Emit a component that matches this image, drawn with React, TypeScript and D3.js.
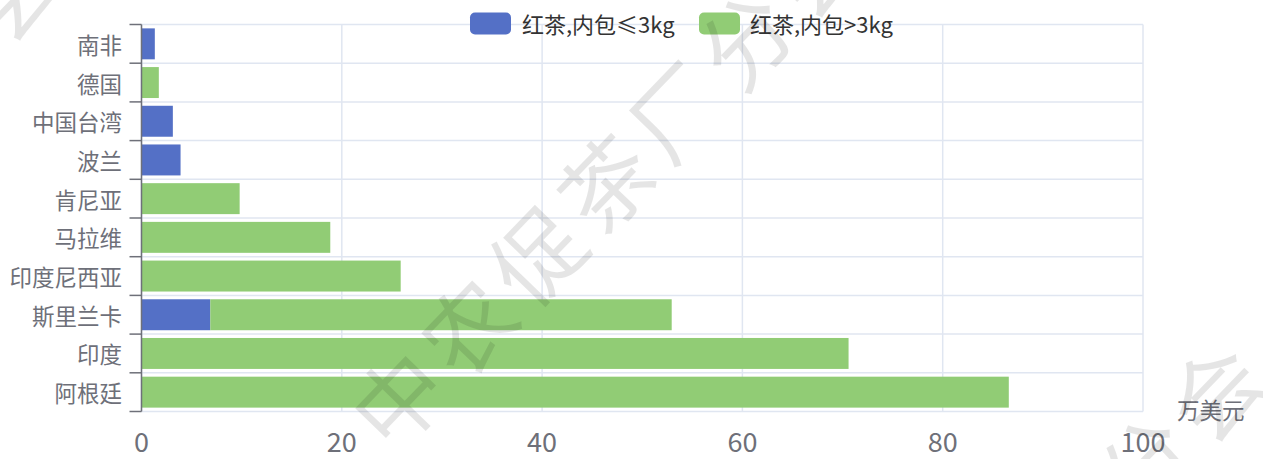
import React from "react";
import * as d3 from "d3";

const categories = ["南非", "德国", "中国台湾", "波兰", "肯尼亚", "马拉维", "印度尼西亚", "斯里兰卡", "印度", "阿根廷"];
const seriesSmall = [1.33, 0, 3.13, 3.9, 0, 0, 0, 6.87, 0, 0];
const seriesLarge = [0, 1.73, 0, 0, 9.8, 18.85, 25.88, 46.07, 70.6, 86.6];
const seriesNames = ["红茶,内包≤3kg", "红茶,内包>3kg"];
const xTicks = [0, 20, 40, 60, 80, 100];
const unitLabel = "万美元";
const watermark = "中农促茶厂分会";

const W = 1263;
const H = 459;
const left = 141.5;
const right = 1143;
const top = 24.5;
const bottom = 411.5;
const colors = ["#5470c6", "#91cc75"];
const axisColor = "#6e7079";
const gridColor = "#e0e6f1";
const font = "'Noto Sans CJK SC', 'Noto Sans', sans-serif";

export default function App() {
  const x = d3.scaleLinear().domain([0, 100]).range([left, right]);
  const y = d3.scaleBand<string>().domain(categories).range([top, bottom]).paddingInner(0.2).paddingOuter(0.1);
  const band = d3.scaleBand<string>().domain(categories).range([top, bottom]);
  const stack = d3.stack<number>().keys(["a", "b"]).value((i, k) => (k === "a" ? seriesSmall[i] : seriesLarge[i]));
  const stacked = stack(categories.map((_, i) => i));
  const boundaries = categories.map((c) => band(c) as number).concat([bottom]);

  const legendItems = [
    { rx: 470, tx: 522 },
    { rx: 699, tx: 750 },
  ];

  return (
    <svg width={W} height={H} style={{ position: "fixed", left: 0, top: 0, background: "#fff" }} fontFamily={font}>
      {/* grid */}
      {xTicks.map((t) => (
        <line key={"v" + t} x1={x(t)} x2={x(t)} y1={top} y2={bottom} stroke={gridColor} strokeWidth={1.5} />
      ))}
      {boundaries.map((b, i) => (
        <line key={"h" + i} x1={left} x2={right} y1={b} y2={b} stroke={gridColor} strokeWidth={1.5} />
      ))}
      {/* bars */}
      {stacked.map((s, si) => (
        <g key={si} fill={colors[si]}>
          {s.map((d, i) =>
            d[1] - d[0] > 0 ? (
              <rect key={i} x={x(d[0])} y={y(categories[i])} width={x(d[1]) - x(d[0])} height={y.bandwidth()} />
            ) : null
          )}
        </g>
      ))}
      {/* y axis */}
      <line x1={left} x2={left} y1={top} y2={bottom} stroke={axisColor} strokeWidth={1.5} />
      {boundaries.map((b, i) => (
        <line key={"t" + i} x1={left - 12} x2={left} y1={b} y2={b} stroke={axisColor} strokeWidth={1.5} />
      ))}
      {categories.map((c) => (
        <text key={c} x={122} y={(band(c) as number) + band.bandwidth() / 2} textAnchor="end" dominantBaseline="central" fontSize={22.5} fill={axisColor}>
          {c}
        </text>
      ))}
      {/* x labels */}
      {xTicks.map((t) => (
        <text key={"xl" + t} x={x(t)} y={440} textAnchor="middle" dominantBaseline="central" fontSize={27} fill={axisColor}>
          {t}
        </text>
      ))}
      <text x={1177} y={409} dominantBaseline="central" fontSize={22.5} fill={axisColor}>
        {unitLabel}
      </text>
      {/* legend */}
      {legendItems.map((l, i) => (
        <g key={"lg" + i}>
          <rect x={l.rx} y={12.5} width={41} height={22} rx={5} fill={colors[i]} />
          <text x={l.tx} y={22.5} dominantBaseline="central" fontSize={22} fill="#333">
            {seriesNames[i]}
          </text>
        </g>
      ))}
      {/* watermark */}
      {[
        [607, 177],
        [1007, 601],
        [-195, 200],
      ].map(([cx, cy], i) => (
        <text
          key={"wm" + i}
          x={0}
          y={0}
          transform={`translate(${cx},${cy}) rotate(-46)`}
          textAnchor="middle"
          dominantBaseline="central"
          fontSize={90}
          letterSpacing={10}
          fill="rgba(0,0,0,0.1)"
        >
          {watermark}
        </text>
      ))}
    </svg>
  );
}
